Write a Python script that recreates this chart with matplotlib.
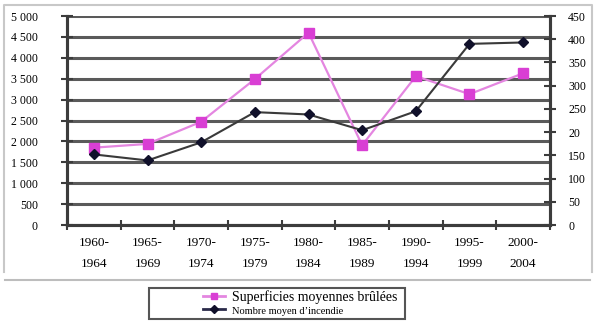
import matplotlib.pyplot as plt
from matplotlib.lines import Line2D
from matplotlib.patches import Rectangle
import numpy as np

plt.rcParams['font.family'] = ['Liberation Serif', 'DejaVu Serif']

# data
periods = ['1960-\n1964', '1965-\n1969', '1970-\n1974', '1975-\n1979', '1980-\n1984',
           '1985-\n1989', '1990-\n1994', '1995-\n1999', '2000-\n2004']
superficies = [1850, 1940, 2470, 3490, 4600, 1910, 3560, 3130, 3630]   # left axis
nombre = [152, 139, 178, 243, 238, 204, 245, 390, 393]                  # right axis

left_ticks = [0, 500, 1000, 1500, 2000, 2500, 3000, 3500, 4000, 4500, 5000]
left_labels = ['0', '500', '1 000', '1 500', '2 000', '2 500', '3 000', '3 500',
               '4 000', '4 500', '5 000']
right_ticks = [0, 50, 100, 150, 200, 250, 300, 350, 400, 450]
right_labels = ['0', '50', '100', '150', '20', '250', '300', '350', '400', '450']

W, H = 594, 322
fig = plt.figure(figsize=(W / 100, H / 100), dpi=100)
ax = fig.add_axes([67 / W, 1 - 225 / H, (550 - 67) / W, (225 - 16) / H])
ax2 = ax.twinx()

x = np.arange(len(periods))
grid_col = '#5a5a5a'
axis_col = '#3c3c3c'

ax.set_xlim(-0.5, len(periods) - 0.5)
ax.set_ylim(0, 5000)
ax2.set_ylim(0, 450)

ax.set_yticks(left_ticks, left_labels)
ax2.set_yticks(right_ticks, right_labels)
for t in left_ticks:
    ax.axhline(t, color=grid_col, lw=2.2, zorder=1)

ax.set_xticks(x, periods)
ax.set_xticks(np.arange(len(periods) + 1) - 0.5, minor=True)
ax.tick_params(axis='x', which='major', length=0, pad=9, labelsize=9.5)
ax.tick_params(axis='x', which='minor', direction='inout', length=7, width=1.5, color=axis_col)
for lbl in ax.get_xticklabels():
    lbl.set_linespacing(1.9)
ax.tick_params(axis='y', direction='inout', length=8, width=1.5, color=axis_col,
               labelsize=8.5, pad=17)
ax2.tick_params(axis='y', direction='inout', length=8, width=1.5, color=axis_col,
                labelsize=8.5, pad=9)

for a in (ax, ax2):
    a.spines['top'].set_visible(False)
    for s in ('left', 'right', 'bottom'):
        a.spines[s].set_color(axis_col)
        a.spines[s].set_linewidth(2.2)

l1, = ax.plot(x, superficies, color='#e486e0', lw=1.6, marker='s', ms=7,
              mfc='#d93fd4', mec='#d93fd4', zorder=3)
l2, = ax2.plot(x, nombre, color='#3a3a3a', lw=1.5, marker='D', ms=5,
               mfc='#10102a', mec='#10102a', zorder=3)

# outer frame and separator line
fig.add_artist(Line2D([4 / W, 4 / W, 592 / W, 592 / W],
                      [1 - 272 / H, 1 - 5 / H, 1 - 5 / H, 1 - 272 / H],
                      color='#c8c8c8', lw=1.5))
fig.add_artist(Line2D([5 / W, 590 / W], [1 - 280 / H, 1 - 280 / H],
                      color='#bdbdbd', lw=1.5))

# legend
fig.add_artist(Rectangle((149 / W, 1 - 319 / H), (405 - 149) / W, (319 - 288) / H,
                         fill=False, ec='#555555', lw=1.5))
h1 = Line2D([], [], color='#e486e0', lw=2, marker='s', ms=5, mfc='#d93fd4', mec='#d93fd4')
h2 = Line2D([], [], color='#2a2a4a', lw=2, marker='D', ms=4, mfc='#10102a', mec='#10102a')
leg = fig.legend([h1, h2], ['Superficies moyennes brûlées', 'Nombre moyen d\u2019incendie'],
                 loc='upper left', bbox_to_anchor=(201 / W, 1 - 288 / H),
                 frameon=False, handlelength=1.6, handletextpad=0.5,
                 labelspacing=0.0, borderpad=0.15, borderaxespad=0)
leg.get_texts()[0].set_fontsize(10)
leg.get_texts()[1].set_fontsize(7.5)

plt.savefig('out.png', dpi=100)
